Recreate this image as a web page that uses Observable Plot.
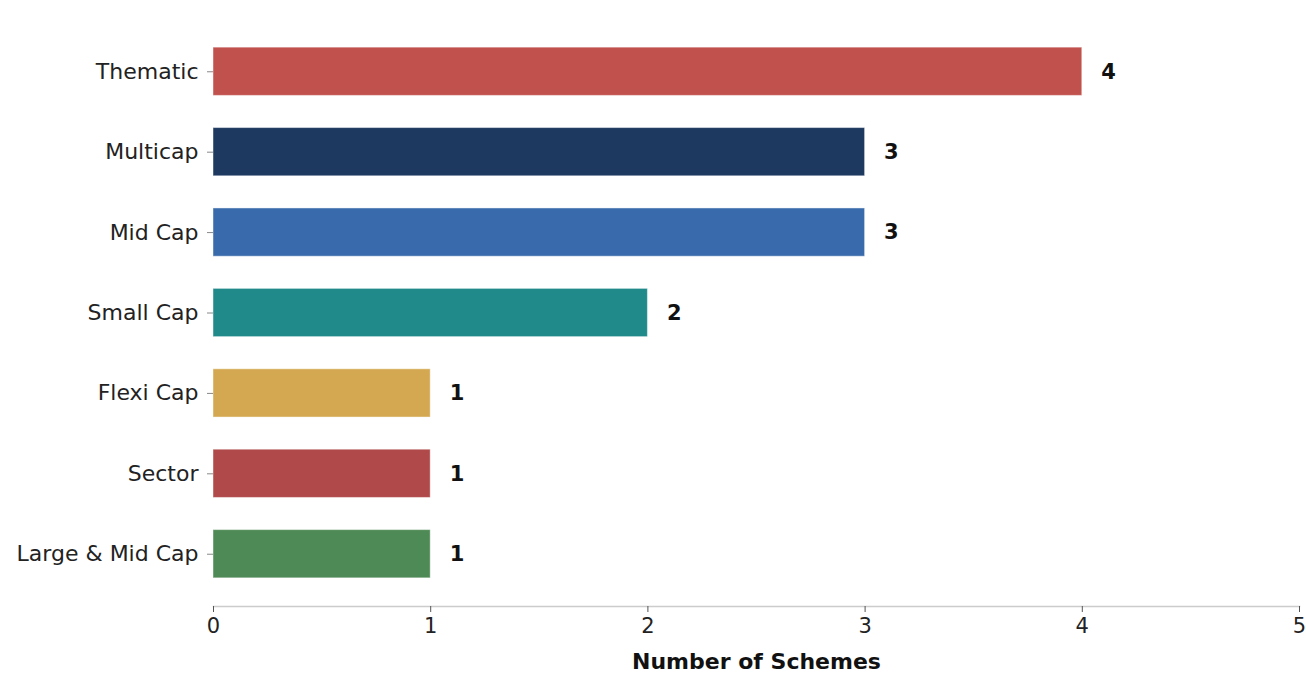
<!DOCTYPE html>
<html>
<head>
<meta charset="utf-8">
<script src="https://cdn.jsdelivr.net/npm/d3@7"></script>
<script src="https://cdn.jsdelivr.net/npm/@observablehq/plot@0.6"></script>
<style>
  html, body { margin: 0; padding: 0; background: #fff; }
  #chart svg { display: block; }
</style>
</head>
<body>
<div id="chart"></div>
<script>
// Scheme counts per fund category
const categories = ["Thematic", "Multicap", "Mid Cap", "Small Cap", "Flexi Cap", "Sector", "Large & Mid Cap"];
const counts = [4, 3, 3, 2, 1, 1, 1];
const colors = ["#c1514d", "#1e3960", "#396aab", "#20898a", "#d4a850", "#b0494a", "#4e8a55"];
const xTicks = [0, 1, 2, 3, 4, 5];

const rows = categories.map((c, i) => ({category: c, count: counts[i], color: colors[i]}));

const font = "'DejaVu Sans', sans-serif";

const chart = Plot.plot({
  width: 1306,
  height: 673,
  marginTop: 19,
  marginBottom: 67,
  marginLeft: 213,
  marginRight: 7,
  style: {fontFamily: font, fontSize: "22px", color: "#222", background: "#fff", overflow: "visible"},
  x: {domain: [0, 5], label: null, ticks: xTicks},
  y: {domain: categories, paddingInner: 0.4, paddingOuter: 0.35, round: false, label: null},
  marks: [
    Plot.barX(rows, {
      x: "count", y: "category", fill: "color",
      stroke: "#ffffff", strokeOpacity: 0.45, strokeWidth: 1
    }),
    Plot.text(rows, {
      x: "count", y: "category", text: d => String(d.count),
      dx: 19, textAnchor: "start", fontWeight: "bold", fontSize: 21, fill: "#111"
    }),
    // bottom spine
    Plot.frame({anchor: "bottom", stroke: "#cccccc", strokeWidth: 1.5}),
    Plot.axisX({
      ticks: xTicks, tickFormat: "d", tickSize: 6, tickPadding: 6, stroke: "#555",
      fontSize: 21, fill: "#222",
      label: "Number of Schemes", labelAnchor: "center", labelArrow: "none", labelOffset: 62
    }),
    Plot.axisY({
      tickSize: 6, tickPadding: 9, stroke: "#888", fontSize: 22, fill: "#222"
    })
  ]
});

// Bold axis title
d3.select(chart).selectAll("g[aria-label='x-axis label'] text")
  .attr("font-weight", "bold").attr("font-size", 22).attr("fill", "#111");

document.getElementById("chart").appendChild(chart);
</script>
</body>
</html>
